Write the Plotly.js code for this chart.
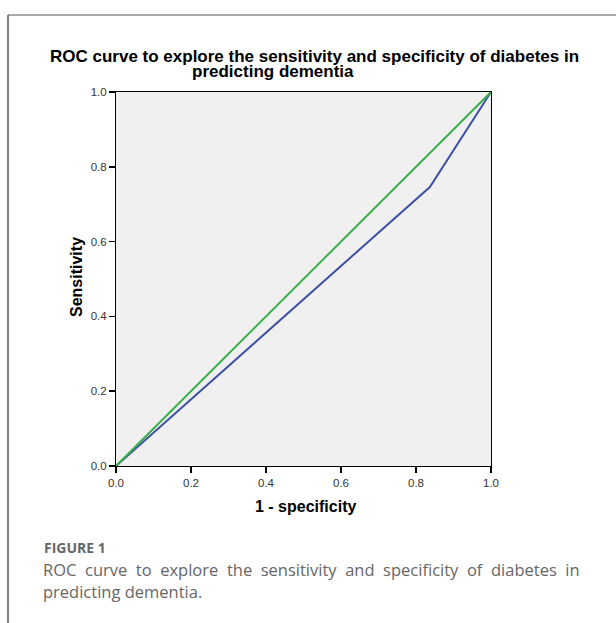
<!DOCTYPE html>
<html>
<head>
<meta charset="utf-8">
<script src="https://cdn.plot.ly/plotly-3.0.1.min.js"></script>
<style>
html,body{margin:0;padding:0;background:#fff;}
#chart{width:616px;height:623px;}
</style>
</head>
<body>
<div id="chart"></div>
<script>
// Data
var diabetesX = [0, 0.837, 1];
var diabetesY = [0, 0.746, 1];
var refX = [0, 1];
var refY = [0, 1];
var tickVals = [0, 0.2, 0.4, 0.6, 0.8, 1.0];
var tickText = ["0.0", "0.2", "0.4", "0.6", "0.8", "1.0"];

var titleLine1 = "ROC curve to explore the sensitivity and specificity of diabetes in";
var titleLine2 = "predicting dementia";
var xTitle = "1 - specificity";
var yTitle = "Sensitivity";
var figLabel = "FIGURE 1";
var caption1 = "ROC curve to explore the sensitivity and specificity of diabetes in";
var caption2 = "predicting dementia.";

// justified first caption line: widen each space with a non-breaking space
var caption1Justified = caption1.split(" ").join(" \u00A0");

var traces = [
  {x: diabetesX, y: diabetesY, mode: "lines", type: "scatter",
   line: {color: "#3d50a3", width: 2}, hoverinfo: "skip", showlegend: false},
  {x: refX, y: refY, mode: "lines", type: "scatter",
   line: {color: "#3aae4a", width: 2}, hoverinfo: "skip", showlegend: false}
];

var axisCommon = {
  range: [0, 1], tickvals: tickVals, ticktext: tickText,
  ticks: "outside", ticklen: 6, tickwidth: 1.5, tickcolor: "#000",
  showline: true, linecolor: "#000", linewidth: 1, mirror: true,
  showgrid: false, zeroline: false, fixedrange: true,
  tickfont: {family: "Liberation Sans, Arial, sans-serif", size: 11.5, color: "#333"}
};

var chartFont = "Liberation Sans, Arial, sans-serif";
var capFont = "Open Sans, Lato, sans-serif";

var layout = {
  width: 616, height: 623,
  margin: {l: 116, r: 125, t: 92, b: 157, pad: 0},
  paper_bgcolor: "#fff", plot_bgcolor: "#f0f0f0",
  xaxis: Object.assign({}, axisCommon),
  yaxis: Object.assign({}, axisCommon),
  showlegend: false,
  shapes: [
    {type: "line", xref: "paper", yref: "paper", x0: -0.288, x1: 1.34, y0: 1.2059, y1: 1.2059,
     line: {color: "#8a8a8a", width: 1.5}},
    {type: "line", xref: "paper", yref: "paper", x0: -0.288, x1: -0.288, y0: 1.2059, y1: -0.43,
     line: {color: "#555", width: 1.5}}
  ],
  annotations: [
    {text: "<b>" + titleLine1 + "</b>", xref: "paper", yref: "paper", x: 0.528, y: 1.094,
     xanchor: "center", yanchor: "middle", showarrow: false,
     font: {family: chartFont, size: 17, color: "#000"}},
    {text: "<b>" + titleLine2 + "</b>", xref: "paper", yref: "paper", x: 0.419, y: 1.055,
     xanchor: "center", yanchor: "middle", showarrow: false,
     font: {family: chartFont, size: 17, color: "#000"}},
    {text: "<b>" + xTitle + "</b>", xref: "paper", yref: "paper", x: 0.504, y: -0.107,
     xanchor: "center", yanchor: "middle", showarrow: false,
     font: {family: chartFont, size: 16, color: "#000"}},
    {text: "<b>" + yTitle + "</b>", xref: "paper", yref: "paper", x: -0.107, y: 0.505,
     xanchor: "center", yanchor: "middle", showarrow: false, textangle: -90,
     font: {family: chartFont, size: 16, color: "#000"}},
    {text: "<b>" + figLabel + "</b>", xref: "paper", yref: "paper", x: -0.197, y: -0.219,
     xanchor: "left", yanchor: "middle", showarrow: false,
     font: {family: capFont, size: 14, color: "#666"}},
    {text: caption1Justified, xref: "paper", yref: "paper", x: -0.199, y: -0.278,
     xanchor: "left", yanchor: "middle", showarrow: false,
     font: {family: capFont, size: 16.5, color: "#666"}},
    {text: caption2, xref: "paper", yref: "paper", x: -0.199, y: -0.335,
     xanchor: "left", yanchor: "middle", showarrow: false,
     font: {family: capFont, size: 16.5, color: "#666"}}
  ]
};

Plotly.newPlot("chart", traces, layout, {displayModeBar: false, staticPlot: true});
</script>
</body>
</html>
